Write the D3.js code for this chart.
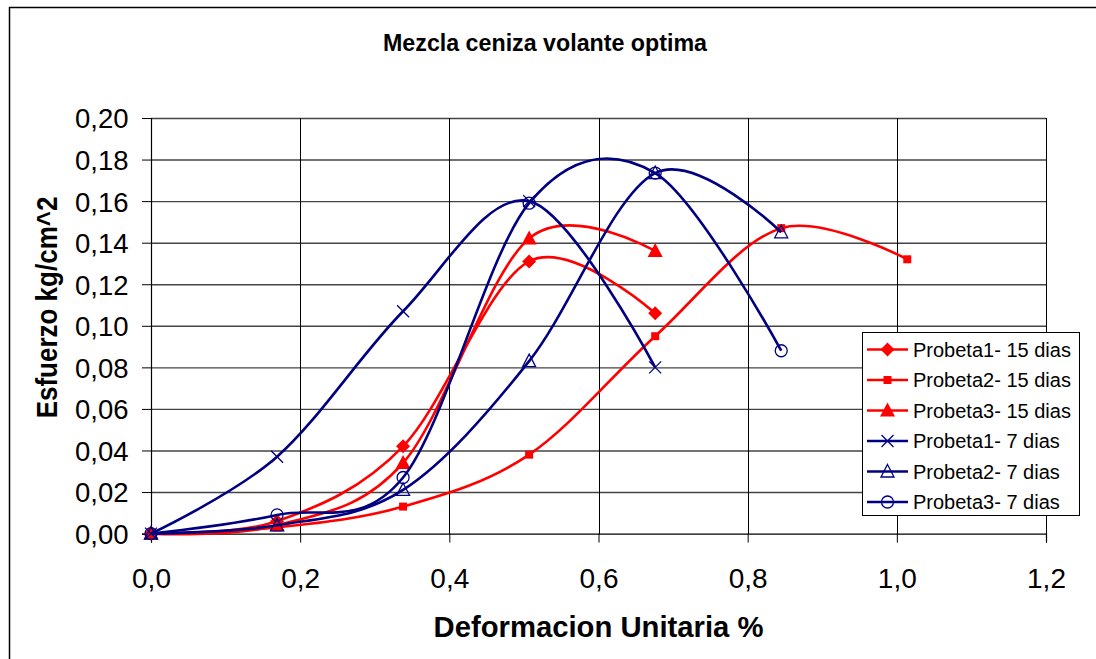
<!DOCTYPE html>
<html>
<head>
<meta charset="utf-8">
<script src="https://cdn.jsdelivr.net/npm/d3@7"></script>
<style>
  html, body { margin: 0; padding: 0; background: #fff; }
  svg { display: block; font-family: "Liberation Sans", Arial, sans-serif; }
</style>
</head>
<body>
<svg id="chart" width="1096" height="659"></svg>
<script>
// ---- data ----
const title = "Mezcla ceniza volante optima";
const xTitle = "Deformacion Unitaria %";
const yTitle = "Esfuerzo kg/cm^2";
const deformation = [0, 0.169, 0.338, 0.507, 0.676, 0.845, 1.014];
const probeta1_15 = [0, 0.006, 0.042, 0.131, 0.106];
const probeta2_15 = [0, 0.003, 0.013, 0.038, 0.095, 0.147, 0.132];
const probeta3_15 = [0, 0.004, 0.034, 0.142, 0.136];
const probeta1_7 = [0, 0.037, 0.107, 0.160, 0.080];
const probeta2_7 = [0, 0.004, 0.021, 0.083, 0.1735, 0.145];
const probeta3_7 = [0, 0.009, 0.027, 0.159, 0.1735, 0.088];
const seriesNames = ["Probeta1- 15 dias", "Probeta2- 15 dias", "Probeta3- 15 dias",
                     "Probeta1- 7 dias", "Probeta2- 7 dias", "Probeta3- 7 dias"];
const xTicks = [0, 0.2, 0.4, 0.6, 0.8, 1.0, 1.2];
const yTicks = [0, 0.02, 0.04, 0.06, 0.08, 0.10, 0.12, 0.14, 0.16, 0.18, 0.20];

const RED = "#ff0000", NAVY = "#000080";
const series = [
  { name: seriesNames[0], values: probeta1_15, color: RED, marker: "diamond" },
  { name: seriesNames[1], values: probeta2_15, color: RED, marker: "square" },
  { name: seriesNames[2], values: probeta3_15, color: RED, marker: "triangle" },
  { name: seriesNames[3], values: probeta1_7, color: NAVY, marker: "x" },
  { name: seriesNames[4], values: probeta2_7, color: NAVY, marker: "otriangle" },
  { name: seriesNames[5], values: probeta3_7, color: NAVY, marker: "circle" }
];

const svg = d3.select("#chart");

const x = d3.scaleLinear().domain([0, 1.2]).range([151, 1046]);
const y = d3.scaleLinear().domain([0, 0.2]).range([533.6, 118]);

// outer frame (top and left visible)
svg.append("line").attr("x1", 9).attr("x2", 1096).attr("y1", 7.5).attr("y2", 7.5)
  .attr("stroke", "#000").attr("stroke-width", 1.5);
svg.append("line").attr("x1", 9.5).attr("x2", 9.5).attr("y1", 7).attr("y2", 659)
  .attr("stroke", "#000").attr("stroke-width", 1.5);

// title
svg.append("text").attr("x", 545).attr("y", 50.5).attr("text-anchor", "middle")
  .attr("font-size", 24).attr("font-weight", "bold").attr("fill", "#000")
  .attr("textLength", 324).attr("lengthAdjust", "spacingAndGlyphs")
  .text(title);

// horizontal gridlines
svg.append("g")
  .attr("transform", "translate(151,0)")
  .call(d3.axisLeft(y).tickValues(yTicks.slice(1)).tickSize(-(1046 - 151)).tickFormat(""))
  .call(g => g.select(".domain").remove())
  .call(g => g.selectAll("line").attr("stroke", "#444").attr("stroke-width", 1.4));

// vertical gridlines
svg.append("g")
  .attr("transform", "translate(0,118)")
  .call(d3.axisBottom(x).tickValues(xTicks.slice(1)).tickSize(533.6 - 118).tickFormat(""))
  .call(g => g.select(".domain").remove())
  .call(g => g.selectAll("line").attr("stroke", "#000").attr("stroke-width", 1).attr("shape-rendering", "crispEdges"));

const fmt = d => d3.format(".2f")(d).replace(".", ",");
const fmtX = d => d3.format(".1f")(d).replace(".", ",");

// y axis
const yAxis = svg.append("g")
  .attr("transform", "translate(151,0)")
  .call(d3.axisLeft(y).tickValues(yTicks).tickSize(9).tickPadding(0).tickFormat(fmt));
yAxis.select(".domain").attr("stroke", "#000").attr("stroke-width", 1.2);
yAxis.selectAll(".tick line").attr("stroke", "#000").attr("stroke-width", 1);
yAxis.selectAll(".tick text")
  .attr("font-size", 27.5).attr("fill", "#000")
  .attr("font-family", "'Liberation Sans', Arial, sans-serif")
  .attr("x", -22.5).attr("dy", "0.36em");

// x axis
const xAxis = svg.append("g")
  .attr("transform", "translate(0,533.6)")
  .call(d3.axisBottom(x).tickValues(xTicks).tickSize(9).tickPadding(0).tickFormat(fmtX));
xAxis.select(".domain").attr("stroke", "#000").attr("stroke-width", 1.2);
xAxis.selectAll(".tick line").attr("stroke", "#000").attr("stroke-width", 1);
xAxis.selectAll(".tick text")
  .attr("font-size", 28).attr("fill", "#000")
  .attr("font-family", "'Liberation Sans', Arial, sans-serif")
  .attr("y", 54).attr("dy", 0);

// axis titles
svg.append("text")
  .attr("x", 598.5).attr("y", 636.5)
  .attr("text-anchor", "middle").attr("font-size", 29).attr("font-weight", "bold").attr("fill", "#000")
  .attr("textLength", 330).attr("lengthAdjust", "spacingAndGlyphs")
  .text(xTitle);
svg.append("text")
  .attr("transform", `translate(57,307.5) rotate(-90) scale(1,1.13)`)
  .attr("text-anchor", "middle").attr("font-size", 26).attr("font-weight", "bold").attr("fill", "#000")
  .text(yTitle);

// markers
function drawMarker(g, type, color) {
  switch (type) {
    case "diamond":
      g.append("path").attr("d", "M0,-7L7,0L0,7L-7,0Z").attr("fill", color);
      break;
    case "square":
      g.append("rect").attr("x", -4).attr("y", -4).attr("width", 8).attr("height", 8).attr("fill", color);
      break;
    case "triangle":
      g.append("path").attr("d", "M0,-8L7.5,6L-7.5,6Z").attr("fill", color);
      break;
    case "x":
      g.append("path").attr("d", "M-6,-6L6,6M-6,6L6,-6").attr("stroke", color).attr("stroke-width", 1.3).attr("fill", "none");
      break;
    case "otriangle":
      g.append("path").attr("d", "M0,-7L6.5,5.5L-6.5,5.5Z").attr("stroke", color).attr("stroke-width", 1.3).attr("fill", "none");
      break;
    case "circle":
      g.append("circle").attr("r", 6).attr("stroke", color).attr("stroke-width", 1.3).attr("fill", "none");
      break;
  }
}

const line = d3.line()
  .x((d, i) => x(deformation[i]))
  .y(d => y(d))
  .curve(d3.curveCardinal.tension(0));

const plot = svg.append("g");
series.forEach(s => {
  const g = plot.append("g");
  g.append("path").attr("d", line(s.values)).attr("fill", "none")
    .attr("stroke", s.color).attr("stroke-width", 2.6).attr("stroke-linejoin", "round");
  s.values.forEach((v, i) => {
    const m = g.append("g").attr("transform", `translate(${x(deformation[i])},${y(v)})`);
    drawMarker(m, s.marker, s.color);
  });
});

// legend
const legend = svg.append("g");
legend.append("rect").attr("x", 862).attr("y", 332).attr("width", 217).attr("height", 183)
  .attr("fill", "#fff").attr("stroke", "#000").attr("stroke-width", 1).attr("shape-rendering", "crispEdges");
series.forEach((s, i) => {
  const cy = 349.5 + i * 30.5;
  legend.append("line").attr("x1", 867).attr("x2", 908).attr("y1", cy).attr("y2", cy)
    .attr("stroke", s.color).attr("stroke-width", 2.6);
  const m = legend.append("g").attr("transform", `translate(887.5,${cy})`);
  drawMarker(m, s.marker, s.color);
  legend.append("text").attr("x", 913).attr("y", cy + 7).attr("font-size", 20).attr("fill", "#000")
    .text(s.name);
});
</script>
</body>
</html>
